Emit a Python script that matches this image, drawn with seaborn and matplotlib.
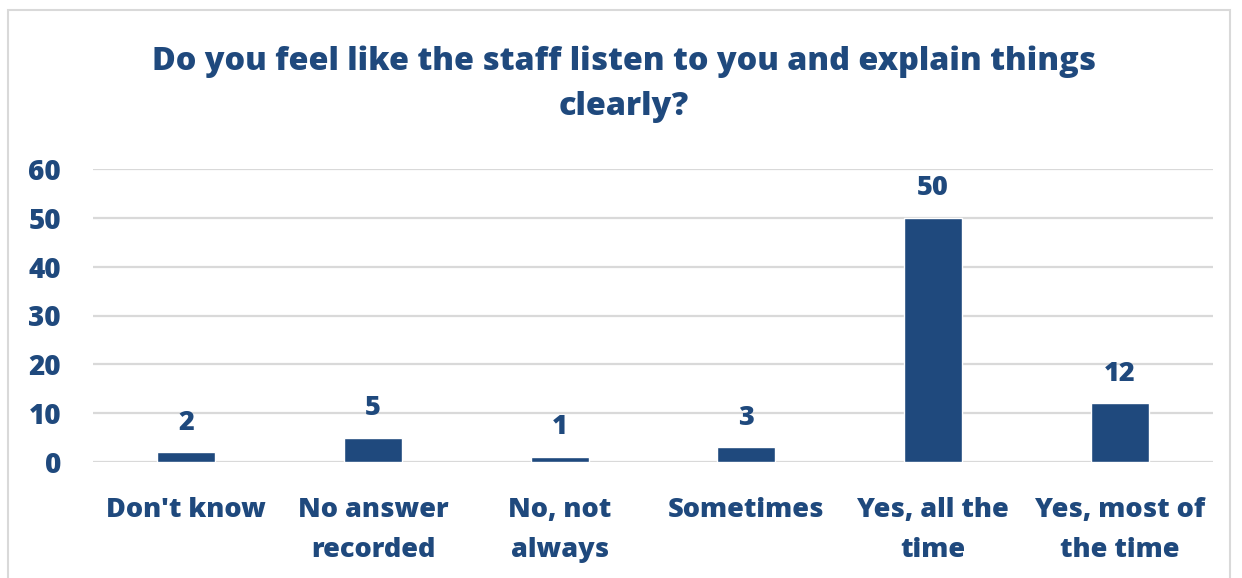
import matplotlib
matplotlib.use("Agg")
import matplotlib.pyplot as plt
import seaborn as sns
import pandas as pd
from matplotlib.patches import Rectangle

categories = ["Don't know", "No answer\nrecorded", "No, not\nalways", "Sometimes",
              "Yes, all the\ntime", "Yes, most of\nthe time"]
counts = [2, 5, 1, 3, 50, 12]
y_ticks = [0, 10, 20, 30, 40, 50, 60]
title = "Do you feel like the staff listen to you and explain things\nclearly?"

NAVY = "#1F497D"
GRID = "#D9D9D9"

sns.set_theme(style="white")
plt.rcParams["font.family"] = ["Open Sans", "DejaVu Sans"]

df = pd.DataFrame({"category": categories, "count": counts})

fig = plt.figure(figsize=(12.42, 5.78), dpi=100)
ax = fig.add_axes([93 / 1242, 1 - 462 / 578, (1213 - 93) / 1242, (462 - 169) / 578])

sns.barplot(data=df, x="category", y="count", color=NAVY, saturation=1,
            width=0.31, ax=ax, zorder=3)

ax.set_ylim(0, 60)
ax.set_yticks(y_ticks)
ax.yaxis.grid(True, color=GRID, linewidth=1.6, zorder=0)
ax.set_axisbelow(True)
for s in ax.spines.values():
    s.set_visible(False)
ax.set_xlabel("")
ax.set_ylabel("")
ax.tick_params(axis="both", length=0)
ax.tick_params(axis="y", pad=23)
ax.tick_params(axis="x", pad=25)
for lbl in ax.get_yticklabels():
    lbl.set_fontsize(20)
    lbl.set_fontweight("heavy")
    lbl.set_color(NAVY)
for lbl in ax.get_xticklabels():
    lbl.set_fontsize(19.5)
    lbl.set_fontweight("heavy")
    lbl.set_color(NAVY)
    lbl.set_linespacing(1.72)

for container in ax.containers:
    ax.bar_label(container, labels=[str(v) for v in counts], padding=12,
                 fontsize=19.5, fontweight="heavy", color=NAVY)

fig.text(624 / 1242, 1 - 84 / 578, title, ha="center", va="center",
         fontsize=23.3, fontweight="heavy", color=NAVY, linespacing=1.55)

# outer chart frame
fig.patches.append(Rectangle((8 / 1242, -0.05), (1230 - 8) / 1242, 1 - 10 / 578 + 0.05,
                             transform=fig.transFigure, fill=False,
                             edgecolor="#D9D9D9", linewidth=1.5))

fig.savefig("out.png", dpi=100, facecolor="white")
